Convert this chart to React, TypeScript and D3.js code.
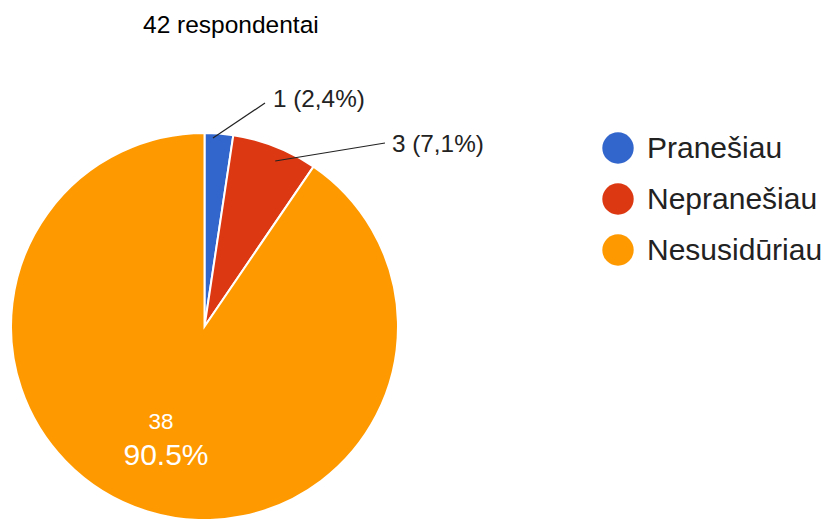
import React from "react";
import * as d3 from "d3";

const categories = ["Pranešiau", "Nepranešiau", "Nesusidūriau"];
const counts = [1, 3, 38];
const outerLabels = ["1 (2,4%)", "3 (7,1%)", ""];
const innerCount = ["", "", "38"];
const innerPercent = ["", "", "90.5%"];
const colors = ["#3366cc", "#dc3912", "#ff9900"];
const title = "42 respondentai";

const W = 833;
const H = 519;
const cx = 204.5;
const cy = 326.5;
const R = 193.5;
const FONT = "'Liberation Sans', Arial, sans-serif";

// layout for outer labels (anchor radius factor, text position)
const outerLayout = [
  { rf: 0.975, angOff: -0.03, tx: 273, ty: 107, lx: 265, ly: 103 },
  { rf: 0.93, angOff: 0.03, tx: 392, ty: 152, lx: 385, ly: 143 },
];

export default function App() {
  const pie = d3
    .pie<number>()
    .sort(null)
    .value((d) => d)
    .startAngle(0)
    .endAngle(2 * Math.PI);
  const arcs = pie(counts);
  const arc = d3.arc<d3.PieArcDatum<number>>().innerRadius(0).outerRadius(R);

  return (
    <svg
      width={W}
      height={H}
      style={{ position: "absolute", left: 0, top: 0, background: "#fff" }}
      fontFamily={FONT}
    >
      <rect x={0} y={0} width={W} height={H} fill="#fff" />
      <text x={143} y={33} fontSize={24.5} fill="#000">
        {title}
      </text>
      <g transform={`translate(${cx},${cy})`}>
        {arcs.map((a, i) => (
          <path key={i} d={arc(a) || ""} fill={colors[i]} stroke="#fff" strokeWidth={2} />
        ))}
        {arcs.map((a, i) => {
          if (!innerCount[i]) return null;
          const mid = (a.startAngle + a.endAngle) / 2;
          const rr = R * 0.64;
          const x = Math.sin(mid) * rr;
          const y = -Math.cos(mid) * rr;
          return (
            <g key={"in" + i}>
              <text x={x - 7} y={y - 16} textAnchor="middle" fontSize={22.5} fill="#fff">
                {innerCount[i]}
              </text>
              <text x={x - 2} y={y + 20} textAnchor="middle" fontSize={30} fill="#fff">
                {innerPercent[i]}
              </text>
            </g>
          );
        })}
      </g>
      {arcs.map((a, i) => {
        if (!outerLabels[i]) return null;
        const L = outerLayout[i];
        const mid = (a.startAngle + a.endAngle) / 2 + L.angOff;
        const ax = cx + Math.sin(mid) * R * L.rf;
        const ay = cy - Math.cos(mid) * R * L.rf;
        return (
          <g key={"out" + i}>
            <line x1={ax} y1={ay} x2={L.lx} y2={L.ly} stroke="#222" strokeWidth={1.2} />
            <text x={L.tx} y={L.ty} fontSize={24.3} fill="#222">
              {outerLabels[i]}
            </text>
          </g>
        );
      })}
      {categories.map((c, i) => (
        <g key={"lg" + i}>
          <circle cx={618} cy={148 + i * 51} r={15.7} fill={colors[i]} />
          <text x={647} y={158 + i * 51} fontSize={30} fill="#222">
            {c}
          </text>
        </g>
      ))}
    </svg>
  );
}
